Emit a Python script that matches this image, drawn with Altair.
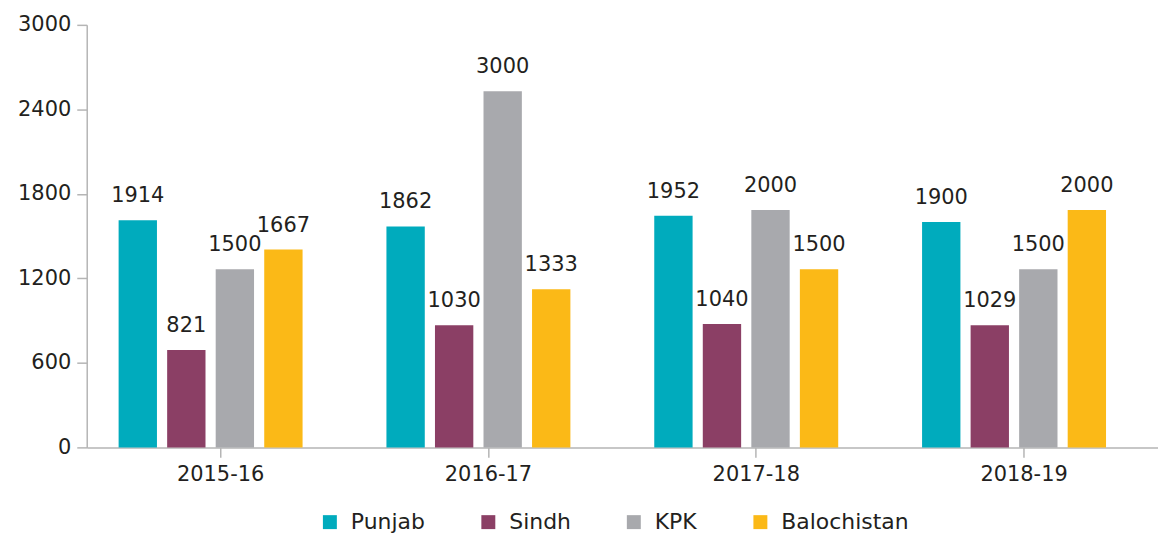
import altair as alt
import pandas as pd

YEARS = ["2015-16", "2016-17", "2017-18", "2018-19"]
PROVINCES = ["Punjab", "Sindh", "KPK", "Balochistan"]
PUNJAB = [1914, 1862, 1952, 1900]
SINDH = [821, 1030, 1040, 1029]
KPK = [1500, 3000, 2000, 1500]
BALOCHISTAN = [1667, 1333, 1500, 2000]
COLORS = ["#00abbd", "#8b3f65", "#a8a9ad", "#fbb917"]
Y_TICK_LABELS = ["0", "600", "1200", "1800", "2400", "3000"]
Y_MAX = 3560

series = {"Punjab": PUNJAB, "Sindh": SINDH, "KPK": KPK, "Balochistan": BALOCHISTAN}
rows = []
for p in PROVINCES:
    for y, v in zip(YEARS, series[p]):
        rows.append({"year": y, "province": p, "value": v})
df = pd.DataFrame(rows)

FONT = "DejaVu Sans"
TXT = "#231f20"
GRAY = "#b5b5b5"

step = Y_MAX / (len(Y_TICK_LABELS) - 1)
tick_vals = [i * step for i in range(len(Y_TICK_LABELS))]
label_expr = "[" + ",".join("'%s'" % s for s in Y_TICK_LABELS) + "][round(datum.value / %f)]" % step

x_enc = alt.X("year:N", sort=YEARS, title=None,
              scale=alt.Scale(paddingInner=0, paddingOuter=0),
              axis=alt.Axis(labelAngle=0, labelFont=FONT, labelFontSize=21, labelColor=TXT,
                            labelPadding=6, tickSize=10, tickColor=GRAY, domainColor=GRAY,
                            domainWidth=1.5, tickWidth=1.5, grid=False))
xo_enc = alt.XOffset("province:N", sort=PROVINCES,
                     scale=alt.Scale(range=[32, 216.6], paddingInner=0.21, paddingOuter=0))
y_enc = alt.Y("value:Q", title=None,
              scale=alt.Scale(domain=[0, Y_MAX], nice=False),
              axis=alt.Axis(values=tick_vals, labelExpr=label_expr, labelFont=FONT,
                            labelFontSize=21, labelColor=TXT, labelPadding=6, tickSize=10,
                            tickColor=GRAY, domainColor=GRAY, domainWidth=1.5, tickWidth=1.5,
                            grid=False))

bars = alt.Chart(df).mark_bar().encode(
    x=x_enc, xOffset=xo_enc, y=y_enc,
    color=alt.Color("province:N", sort=PROVINCES,
                    scale=alt.Scale(domain=PROVINCES, range=COLORS),
                    legend=alt.Legend(title=None, orient="none", legendX=233, legendY=488,
                                      direction="horizontal", columns=4, columnPadding=52,
                                      symbolType="square", symbolSize=196, symbolStrokeWidth=0,
                                      labelFont=FONT, labelFontSize=22, labelColor=TXT,
                                      labelOffset=10, padding=0)),
)

labels = alt.Chart(df).mark_text(font=FONT, fontSize=21, color=TXT, dy=-18, baseline="alphabetic").encode(
    x=alt.X("year:N", sort=YEARS), xOffset=alt.XOffset("province:N", sort=PROVINCES),
    y="value:Q", text="value:Q",
)

chart = alt.layer(bars, labels).properties(
    width=1075, height=424,
    autosize=alt.AutoSizeParams(type="none"),
    padding={"left": 79, "top": 16, "right": 0, "bottom": 88},
).configure_view(stroke=None)

chart.save("out.html", embed_options={"renderer": "svg", "actions": False})
